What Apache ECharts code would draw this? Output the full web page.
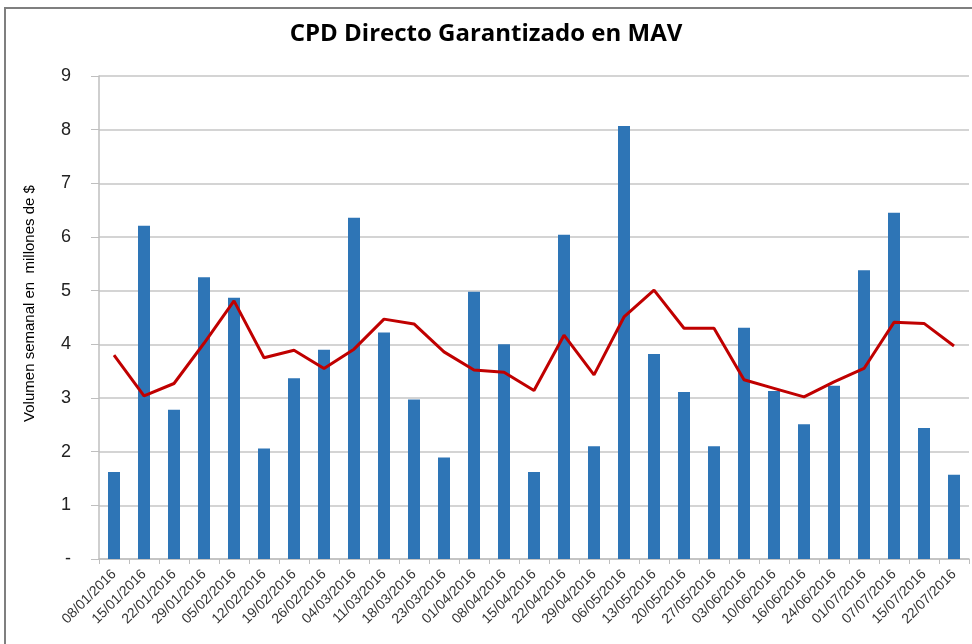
<!DOCTYPE html>
<html><head><meta charset="utf-8">
<script src="https://cdn.jsdelivr.net/npm/echarts@6/dist/echarts.min.js"></script>
<style>html,body{margin:0;padding:0;background:#fff}#c{width:972px;height:644px}</style>
</head><body><div id="c"></div>
<script>
const categories = ['08/01/2016','15/01/2016','22/01/2016','29/01/2016','05/02/2016','12/02/2016','19/02/2016','26/02/2016','04/03/2016','11/03/2016','18/03/2016','23/03/2016','01/04/2016','08/04/2016','15/04/2016','22/04/2016','29/04/2016','06/05/2016','13/05/2016','20/05/2016','27/05/2016','03/06/2016','10/06/2016','16/06/2016','24/06/2016','01/07/2016','07/07/2016','15/07/2016','22/07/2016'];
const volumen = [1.62,6.21,2.78,5.25,4.87,2.06,3.37,3.90,6.36,4.22,2.97,1.89,4.98,4.00,1.62,6.04,2.10,8.07,3.82,3.11,2.10,4.31,3.13,2.51,3.23,5.38,6.45,2.44,1.57];
const promedio = [3.80,3.04,3.27,4.02,4.81,3.75,3.89,3.55,3.91,4.47,4.38,3.86,3.52,3.48,3.14,4.17,3.43,4.51,5.01,4.30,4.30,3.34,3.18,3.02,3.30,3.55,4.41,4.39,3.97];
const yTicks = ['-','1','2','3','4','5','6','7','8','9'];

const chart = echarts.init(document.getElementById('c'), null, {renderer:'canvas'});
chart.setOption({
  animation:false,
  backgroundColor:'#fff',
  title:{text:'CPD Directo Garantizado en MAV',left:'center',top:17,
    textStyle:{fontFamily:'"Liberation Sans Narrow","Open Sans",sans-serif',fontWeight:'bold',fontSize:24,color:'#000'}},
  graphic:[{type:'rect',shape:{x:5,y:8,width:1000,height:700},style:{fill:null,stroke:'#7f7f7f',lineWidth:2},silent:true}],
  grid:{left:99,right:3,top:76,bottom:85},
  xAxis:{type:'category',data:categories,
    axisLine:{lineStyle:{color:'#bfbfbf',width:1.5}},
    axisTick:{show:true,length:5,alignWithLabel:false,lineStyle:{color:'#bfbfbf'}},
    axisLabel:{interval:0,rotate:45,fontSize:14,color:'#333',margin:13,fontFamily:'"Liberation Sans Narrow","Liberation Sans",sans-serif'}},
  yAxis:{type:'value',min:0,max:9,interval:1,
    name:'Volumen semanal en  millones de $',nameLocation:'middle',nameGap:62,nameRotate:90,
    nameTextStyle:{fontSize:15,color:'#000',padding:[0,0,0,28],fontFamily:'"Liberation Sans Narrow","Liberation Sans",sans-serif'},
    axisLine:{show:true,lineStyle:{color:'#bfbfbf',width:1.5}},
    axisTick:{show:true,length:8,lineStyle:{color:'#bfbfbf'}},
    splitLine:{lineStyle:{color:'#c6c6c6',width:1.5}},
    axisLabel:{fontSize:18,color:'#222',margin:28,formatter:(v)=>yTicks[v]}},
  series:[
    {type:'bar',data:volumen,barWidth:12,itemStyle:{color:'#2e75b6'}},
    {type:'line',data:promedio,symbol:'none',lineStyle:{color:'#c00000',width:3}}
  ]
});
</script></body></html>
